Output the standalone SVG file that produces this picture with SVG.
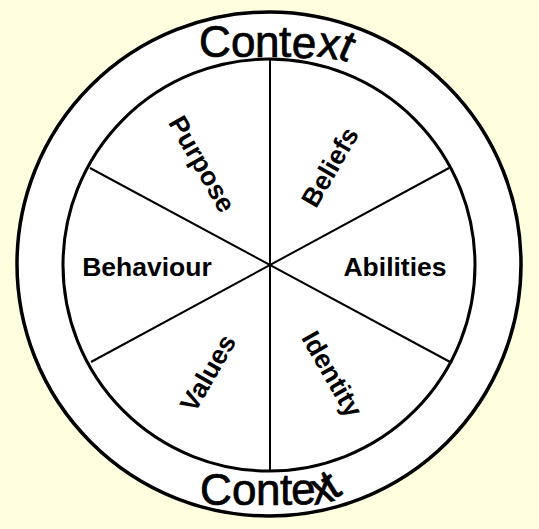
<svg xmlns="http://www.w3.org/2000/svg" width="539" height="529" viewBox="0 0 539 529">
  <style>
    .ring { fill: #ffffff; stroke: #000000; stroke-width: 3.5; }
    .inner { fill: #ffffff; stroke: #000000; stroke-width: 3; }
    .spoke { stroke: #000000; stroke-width: 2; fill: none; }
    .ctx { font-family: "Liberation Sans", Arial, sans-serif; font-size: 44px; fill: #000000; stroke: #000000; stroke-width: 0.7; }
    .lbl { font-family: "Liberation Sans", Arial, sans-serif; font-size: 26.5px; font-weight: bold; fill: #000000; text-anchor: middle; }
  </style>
  <rect x="0" y="0" width="539" height="529" fill="#ffffe0"/>
  <g id="outer-circle">
    <circle class="ring" cx="269" cy="264" r="252"/>
  </g>
  <g id="inner-circle">
    <circle class="inner" cx="269" cy="265" r="206"/>
  </g>
  <g id="connectors">
    <line class="spoke" x1="270" y1="59" x2="270" y2="471"/>
    <line class="spoke" x1="90" y1="168" x2="452" y2="363"/>
    <line class="spoke" x1="91" y1="362" x2="449" y2="168"/>
  </g>
  <g id="context-top">
    <text class="ctx" x="199 231 255 279 291 316 336" y="57 57 57 57 57 56 57" rotate="0 0 0 0 4 10 24">Context</text>
  </g>
  <g id="context-bottom">
    <text class="ctx" x="200 232 256 280 292 314 333" y="505 505 505 505 505 505 500" rotate="0 0 0 0 -4 -12 -32">Context</text>
  </g>
  <g id="purpose">
    <text class="lbl" transform="translate(202,164) rotate(60)" x="0" y="9">Purpose</text>
  </g>
  <g id="beliefs">
    <text class="lbl" transform="translate(330,167) rotate(-60)" x="0" y="9">Beliefs</text>
  </g>
  <g id="behaviour">
    <text class="lbl" x="147" y="276">Behaviour</text>
  </g>
  <g id="abilities">
    <text class="lbl" x="395" y="276">Abilities</text>
  </g>
  <g id="values">
    <text class="lbl" transform="translate(208,373) rotate(-60)" x="0" y="9">Values</text>
  </g>
  <g id="identity">
    <text class="lbl" transform="translate(332,374) rotate(60)" x="0" y="9">Identity</text>
  </g>
</svg>
